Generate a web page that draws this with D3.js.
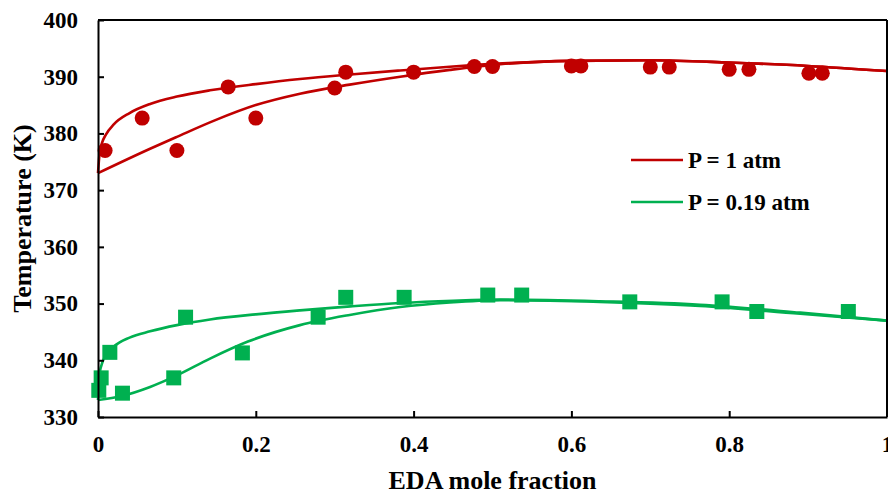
<!DOCTYPE html>
<html><head><meta charset="utf-8">
<script src="https://cdn.jsdelivr.net/npm/d3@7"></script>
<style>body{margin:0;background:#fff}svg{display:block}</style>
</head><body>
<svg id="c" width="888" height="494"></svg>
<script>
// ---- data ----
const xTicks = [0, 0.2, 0.4, 0.6, 0.8, 1];
const xTickLabels = ["0", "0.2", "0.4", "0.6", "0.8", "1"];
const yTicks = [330, 340, 350, 360, 370, 380, 390, 400];
const seriesNames = ["P = 1 atm", "P = 0.19 atm"];

const redPoints = [[0.009,377],[0.056,382.7],[0.1,377],[0.165,388.2],[0.2,382.7],[0.3,388],[0.314,390.8],[0.4,390.8],[0.477,391.8],[0.5,391.8],[0.6,391.9],[0.612,391.9],[0.7,391.7],[0.724,391.7],[0.8,391.3],[0.825,391.3],[0.901,390.6],[0.918,390.6]];
const greenPoints = [[0.001,334.7],[0.004,336.9],[0.015,341.4],[0.031,334.2],[0.096,336.9],[0.111,347.6],[0.183,341.3],[0.279,347.6],[0.314,351.1],[0.388,351.1],[0.494,351.5],[0.537,351.5],[0.674,350.3],[0.791,350.3],[0.835,348.6],[0.951,348.6]];

const redUpper = [[0,373],[0.002,376.5],[0.005,378.3],[0.01,379.8],[0.02,381.6],[0.04,383.6],[0.066,385.2],[0.1,386.5],[0.142,387.6],[0.2,388.7],[0.256,389.6],[0.32,390.4],[0.383,391.1],[0.45,391.8],[0.52,392.4],[0.6,392.8],[0.7,392.9],[0.8,392.5],[0.9,391.9],[1.0,391.0]];
const redLower = [[0,373],[0.066,377.3],[0.1,379.4],[0.148,382.3],[0.2,385.0],[0.256,387.0],[0.319,388.6],[0.383,390.0],[0.446,391.2],[0.51,392.2],[0.6,392.8],[0.7,392.9],[0.8,392.5],[0.9,391.9],[1.0,391.0]];
const greenUpper = [[0,333.0],[0.002,337.6],[0.006,339.8],[0.012,341.2],[0.02,342.4],[0.04,344.0],[0.066,345.1],[0.1,346.2],[0.142,347.2],[0.2,348.1],[0.256,348.8],[0.32,349.5],[0.383,350.1],[0.45,350.5],[0.51,350.7],[0.636,350.4],[0.763,349.8],[0.89,348.4],[1.0,347.0]];
const greenLower = [[0,333.0],[0.03,333.7],[0.066,335.3],[0.098,337.2],[0.142,340.3],[0.19,343.3],[0.256,346.2],[0.319,348.0],[0.383,349.4],[0.446,350.2],[0.51,350.6],[0.636,350.3],[0.763,349.6],[0.89,348.2],[1.0,347.0]];

// ---- layout ----
const W = 888, H = 494;
const m = {left: 98, right: 1, top: 20, bottom: 77};
const RED = "#C00000", GREEN = "#00B050";
const FONT = '"Liberation Serif"';

const svg = d3.select("#c");
const x = d3.scaleLinear().domain([0, 1]).range([m.left, W - m.right]);
const y = d3.scaleLinear().domain([330, 400]).range([H - m.bottom, m.top]);

// curves
const line = d3.line().x(d => x(d[0])).y(d => y(d[1])).curve(d3.curveMonotoneX);
const curves = [[redUpper, RED], [redLower, RED], [greenUpper, GREEN], [greenLower, GREEN]];
svg.append("g").selectAll("path").data(curves).join("path")
  .attr("d", d => line(d[0])).attr("fill", "none")
  .attr("stroke", d => d[1]).attr("stroke-width", 2.6);

// markers
svg.append("g").selectAll("circle").data(redPoints).join("circle")
  .attr("cx", d => x(d[0])).attr("cy", d => y(d[1])).attr("r", 7.5).attr("fill", RED);
const s = 15;
svg.append("g").selectAll("rect").data(greenPoints).join("rect")
  .attr("x", d => x(d[0]) - s/2).attr("y", d => y(d[1]) - s/2)
  .attr("width", s).attr("height", s).attr("fill", GREEN);

// frame (top & right)
svg.append("line").attr("x1", x(0)).attr("x2", x(1)).attr("y1", y(400)).attr("y2", y(400)).attr("stroke", "#000").attr("stroke-width", 2);
svg.append("line").attr("x1", x(1)).attr("x2", x(1)).attr("y1", y(400)).attr("y2", y(330)).attr("stroke", "#000").attr("stroke-width", 2);

// axes
const xAxis = d3.axisBottom(x).tickValues(xTicks).tickFormat((d, i) => xTickLabels[i]).tickSizeInner(-6).tickSizeOuter(0).tickPadding(19);
const gx = svg.append("g").attr("transform", `translate(0,${y(330)})`).call(xAxis);
const yAxis = d3.axisLeft(y).tickValues(yTicks).tickSizeInner(-6).tickSizeOuter(0).tickPadding(20);
const gy = svg.append("g").attr("transform", `translate(${x(0)},0)`).call(yAxis);
[gx, gy].forEach(g => {
  g.select(".domain").attr("stroke", "#000").attr("stroke-width", 2);
  g.selectAll(".tick line").attr("stroke", "#000").attr("stroke-width", 2);
  g.selectAll("text").style("font-family", FONT).style("font-weight", "bold")
    .style("font-size", "23px").attr("fill", "#000");
});

// axis titles
svg.append("text").attr("x", (x(0) + x(1)) / 2).attr("y", 489).attr("text-anchor", "middle")
  .style("font-family", FONT).style("font-weight", "bold").style("font-size", "26px").text("EDA mole fraction");
svg.append("text").attr("transform", `translate(31,${(y(330) + y(400)) / 2}) rotate(-90)`).attr("text-anchor", "middle")
  .style("font-family", FONT).style("font-weight", "bold").style("font-size", "26px").text("Temperature (K)");

// legend
const leg = svg.append("g").selectAll("g").data([[seriesNames[0], RED], [seriesNames[1], GREEN]]).join("g")
  .attr("transform", (d, i) => `translate(631,${160 + i * 42})`);
leg.append("line").attr("x1", 0).attr("x2", 52).attr("stroke", d => d[1]).attr("stroke-width", 2.6);
leg.append("text").attr("x", 57).attr("y", 8)
  .style("font-family", FONT).style("font-weight", "bold").style("font-size", "23px").text(d => d[0]);
</script>
</body></html>
